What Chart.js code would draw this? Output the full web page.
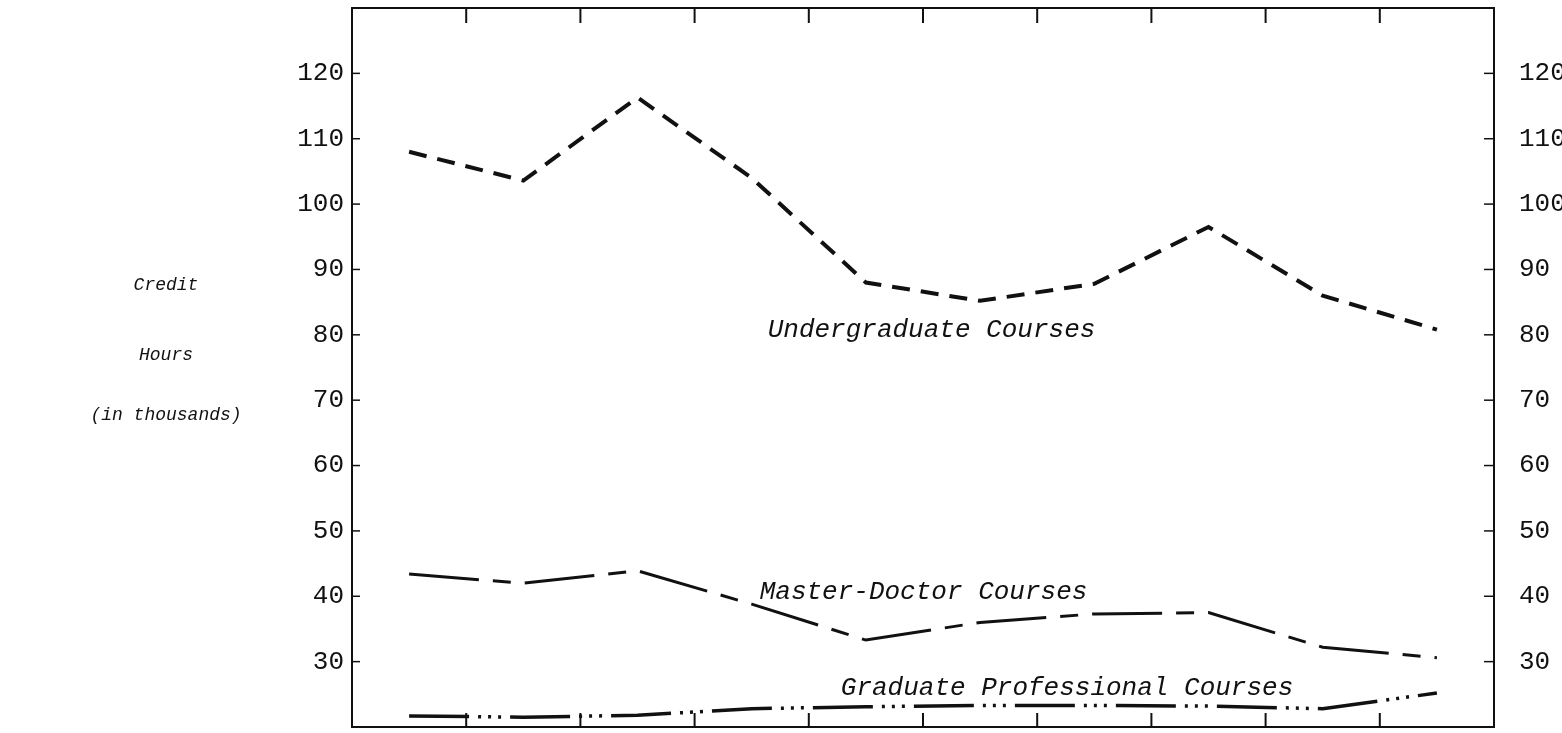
<!DOCTYPE html>
<html>
<head>
<meta charset="utf-8">
<script src="https://cdn.jsdelivr.net/npm/chart.js"></script>
<style>
  html, body { margin: 0; padding: 0; background: #fff; }
</style>
</head>
<body>
<canvas id="creditChart" width="1562" height="733"></canvas>
<script>
// Credit hours (in thousands) per period
const periods = ['1', '2', '3', '4', '5', '6', '7', '8', '9', '10'];
const undergraduate = [108, 103.6, 116.3, 104, 88, 85.2, 87.8, 96.5, 86, 80.8];
const masterDoctor = [43.4, 42, 43.9, 38.8, 33.3, 36, 37.3, 37.5, 32.2, 30.6];
const gradProfessional = [21.7, 21.5, 21.8, 22.8, 23.1, 23.3, 23.3, 23.2, 22.8, 25.2];
const yTickValues = [30, 40, 50, 60, 70, 80, 90, 100, 110, 120];
const yMin = 20;
const yMax = 130;

const axisTitle = ['Credit', 'Hours', '(in thousands)'];
const seriesNames = ['Undergraduate Courses', 'Master-Doctor Courses', 'Graduate Professional Courses'];

const ink = '#111';
const monoFont = '"Liberation Mono", "Courier New", monospace';

// where the annotation text sits, in data units (category index, value)
const seriesLabelPos = [
  { i: 3.14, v: 80.7 },
  { i: 3.07, v: 40.6 },
  { i: 3.78, v: 26.0 }
];
const titlePos = [
  { x: 166, v: 87.6 },
  { x: 166, v: 76.9 },
  { x: 166, v: 67.7 }
];

function line(ctx, x1, y1, x2, y2) {
  ctx.beginPath();
  ctx.moveTo(x1, y1);
  ctx.lineTo(x2, y2);
  ctx.stroke();
}

// frame, inward ticks and the typed labels
const framePlugin = {
  id: 'frame',
  afterDraw(chart) {
    const { ctx, chartArea: a, scales } = chart;
    const x = scales.x, y = scales.y;
    ctx.save();
    ctx.strokeStyle = ink;
    ctx.lineWidth = 2;
    ctx.strokeRect(a.left, a.top, a.width, a.height);

    ctx.lineWidth = 2;
    for (let i = 0; i < periods.length - 1; i++) {
      const px = (x.getPixelForValue(i) + x.getPixelForValue(i + 1)) / 2;
      line(ctx, px, a.top, px, a.top + 15);
      line(ctx, px, a.bottom, px, a.bottom - 14);
    }
    ctx.lineWidth = 1.5;
    yTickValues.forEach(v => {
      const py = y.getPixelForValue(v);
      line(ctx, a.left, py, a.left + 8, py);
      line(ctx, a.right, py, a.right - 10, py);
    });

    ctx.fillStyle = ink;
    ctx.textBaseline = 'middle';
    ctx.textAlign = 'left';
    ctx.font = 'italic 26px ' + monoFont;
    seriesNames.forEach((name, k) => {
      const p = seriesLabelPos[k];
      const px = x.getPixelForValue(0) + p.i * (x.getPixelForValue(1) - x.getPixelForValue(0));
      ctx.fillText(name, px, y.getPixelForValue(p.v));
    });

    ctx.textAlign = 'center';
    ctx.font = 'italic 18px ' + monoFont;
    axisTitle.forEach((t, k) => {
      ctx.fillText(t, titlePos[k].x, y.getPixelForValue(titlePos[k].v));
    });
    ctx.restore();
  }
};

const tickFont = { family: monoFont, size: 26 };

function noEdgePadding(s) {
  s.paddingTop = 0;
  s.paddingBottom = 0;
}

const chart = new Chart(document.getElementById('creditChart'), {
  type: 'line',
  data: {
    labels: periods,
    datasets: [
      {
        label: seriesNames[0],
        data: undergraduate,
        borderColor: ink,
        borderWidth: 4,
        borderDash: [18, 11],
        pointRadius: 0,
        tension: 0,
        fill: false
      },
      {
        label: seriesNames[1],
        data: masterDoctor,
        borderColor: ink,
        borderWidth: 3,
        borderDash: [70, 14, 18, 14],
        pointRadius: 0,
        tension: 0,
        fill: false
      },
      {
        label: seriesNames[2],
        data: gradProfessional,
        borderColor: ink,
        borderWidth: 3.5,
        borderDash: [60, 9, 3, 7, 3, 7, 3, 9],
        pointRadius: 0,
        tension: 0,
        fill: false
      }
    ]
  },
  options: {
    responsive: false,
    devicePixelRatio: 1,
    animation: false,
    layout: { padding: { top: 8, left: 0, right: 0, bottom: 0 } },
    plugins: {
      legend: { display: false },
      tooltip: { enabled: false }
    },
    scales: {
      x: {
        type: 'category',
        offset: true,
        grid: { display: false, drawTicks: false },
        border: { display: false },
        ticks: { display: false },
        afterFit(s) { s.height = 6; s.paddingLeft = 0; s.paddingRight = 0; }
      },
      y: {
        position: 'left',
        min: yMin,
        max: yMax,
        afterBuildTicks(s) { s.ticks = yTickValues.map(v => ({ value: v })); },
        grid: { display: false, drawTicks: false },
        border: { display: false },
        ticks: { padding: 8, color: ink, font: tickFont, autoSkip: false },
        afterFit(s) { s.width = 352; noEdgePadding(s); }
      },
      y2: {
        position: 'right',
        min: yMin,
        max: yMax,
        afterBuildTicks(s) { s.ticks = yTickValues.map(v => ({ value: v })); },
        grid: { display: false, drawTicks: false },
        border: { display: false },
        ticks: { padding: 25, color: ink, font: tickFont, autoSkip: false },
        afterFit(s) { s.width = 68; noEdgePadding(s); }
      }
    }
  },
  plugins: [framePlugin]
});
</script>
</body>
</html>
